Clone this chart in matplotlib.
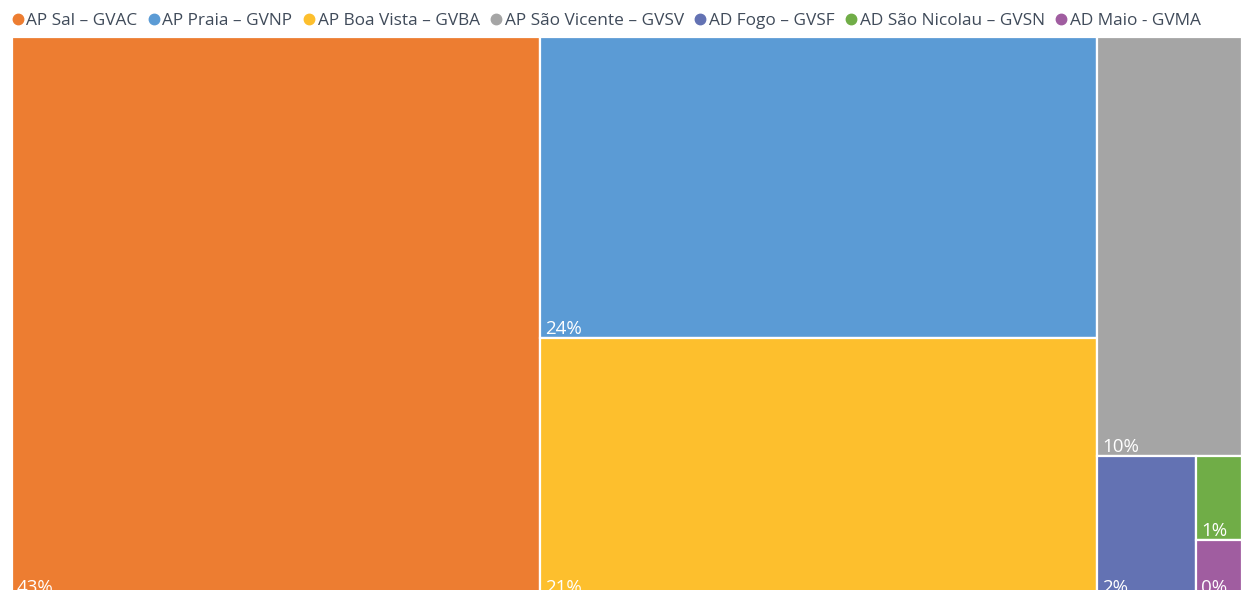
import matplotlib
matplotlib.use("Agg")
import matplotlib.pyplot as plt
from matplotlib.patches import Rectangle
from matplotlib.lines import Line2D

plt.rcParams['font.family'] = ['Open Sans', 'DejaVu Sans']

# Data (area weights) and shown labels
categories = ["AP Sal – GVAC", "AP Praia – GVNP", "AP Boa Vista – GVBA",
              "AP São Vicente – GVSV", "AD Fogo – GVSF", "AD São Nicolau – GVSN",
              "AD Maio - GVMA"]
values = [42.93, 24.34, 20.94, 8.82, 2.03, 0.56, 0.38]
pct_labels = ["43%", "24%", "21%", "10%", "2%", "1%", "0%"]
colors = ["#ED7D31", "#5B9BD5", "#FDBF2D", "#A5A5A5", "#6372B3", "#70AD47", "#A05DA0"]

W_PX, H_PX = 1242, 590
fig = plt.figure(figsize=(W_PX / 100, H_PX / 100), dpi=100)

left, right, top, bottom = 12, 1242, 37, 597
ax = fig.add_axes([left / W_PX, (H_PX - bottom) / H_PX,
                   (right - left) / W_PX, (bottom - top) / H_PX])
ax.set_xlim(0, 1)
ax.set_ylim(1, 0)
ax.axis('off')

total = sum(values)
rects = []
# column 1
w0 = values[0] / total
rects.append((0, 0, w0, 1))
# column 2
w1 = (values[1] + values[2]) / total
h1 = values[1] / (values[1] + values[2])
rects.append((w0, 0, w1, h1))
rects.append((w0, h1, w1, 1 - h1))
# column 3
x2 = w0 + w1
w2 = 1 - x2
rest = sum(values[3:])
h3 = values[3] / rest
rects.append((x2, 0, w2, h3))
sub = sum(values[4:])
wf = w2 * values[4] / sub
rects.append((x2, h3, wf, 1 - h3))
hs = (1 - h3) * values[5] / (values[5] + values[6])
rects.append((x2 + wf, h3, w2 - wf, hs))
rects.append((x2 + wf, h3 + hs, w2 - wf, 1 - h3 - hs))

px_x = 1.0 / (right - left)
px_y = 1.0 / (bottom - top)
for (x, y, w, h), c, lab in zip(rects, colors, pct_labels):
    ax.add_patch(Rectangle((x, y), w, h, facecolor=c, edgecolor='white', linewidth=1.6))
    ax.text(x + 5 * px_x, y + h - 4 * px_y, lab, color='white', fontsize=13.5,
            ha='left', va='baseline')

handles = [Line2D([0], [0], marker='o', color='none', markerfacecolor=c,
                  markeredgecolor=c, markersize=7.5) for c in colors]
fig.legend(handles, categories, loc='center left', bbox_to_anchor=(9 / W_PX, 1 - 21 / H_PX),
           ncol=7, frameon=False, fontsize=12.45, handletextpad=0.0, columnspacing=0.45,
           handlelength=1.0, labelcolor='#404B5A', borderaxespad=0, borderpad=0)

fig.savefig("out.png", dpi=100)
